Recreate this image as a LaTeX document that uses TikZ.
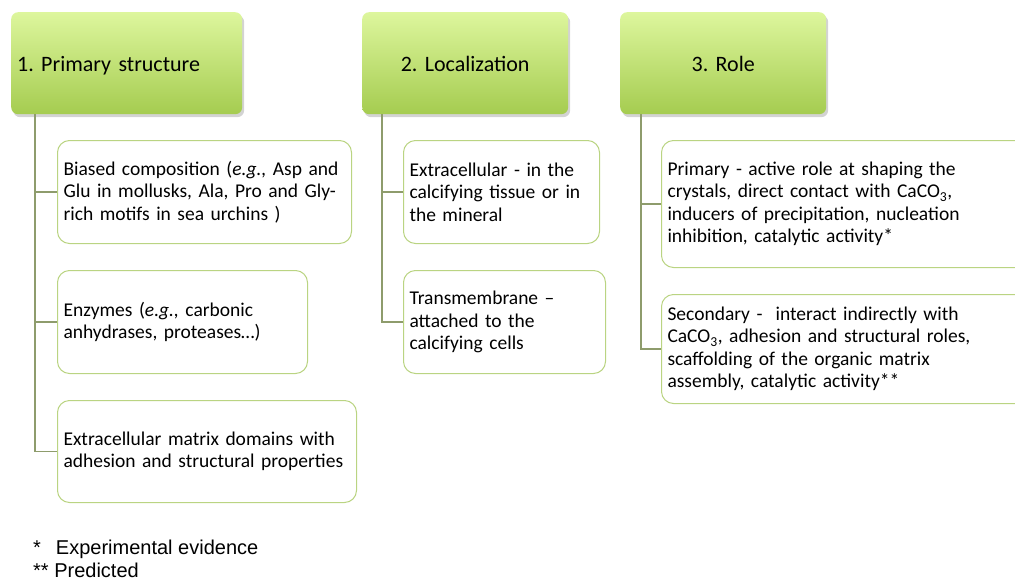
\documentclass[tikz,border=0pt]{standalone}
\usepackage{fontspec}
\setmainfont{Carlito}
\newfontfamily\notefont{Liberation Sans}
\usetikzlibrary{shadows}
\frenchspacing

\definecolor{headtop}{HTML}{DDF69D}
\definecolor{headbot}{HTML}{A5CC50}
\definecolor{boxline}{HTML}{BAD482}
\definecolor{linkline}{HTML}{8E9C6C}

\tikzset{
  headbox/.style={rectangle, rounded corners=7pt, top color=headtop, bottom color=headbot,
    minimum height=102pt, anchor=north west, inner xsep=6pt,
    drop shadow={shadow xshift=2pt, shadow yshift=-3pt, opacity=0.35},
    font=\fontsize{22}{26}\selectfont},
  itembox/.style={draw=boxline, rectangle, rounded corners=12pt, line width=1pt, fill=white,
    anchor=north west, align=left, inner xsep=6pt,
    font=\fontsize{19.5}{22.5}\selectfont},
  branch/.style={draw=linkline, line width=1.2pt}
}

\begin{document}
\begin{tikzpicture}[x=1pt, y=-1pt]
        \useasboundingbox (0,0) rectangle (1015,581);

        % headers
        \node[headbox, minimum width=231pt, text width=219pt, align=left] (head_primary) at (11,12) {\raisebox{-3pt}[\height][\depth]{1. Primary structure}};
        \node[headbox, minimum width=206pt, text width=194pt, align=center] (head_local) at (362,12) {\raisebox{-1pt}[\height][\depth]{2. Localization}};
        \node[headbox, minimum width=206pt, text width=194pt, align=center] (head_role) at (620,12) {\raisebox{-1pt}[\height][\depth]{3. Role}};

        % first column
        \node[itembox, minimum width=294pt, text width=282pt, minimum height=103pt] (item_biased) at (57,140)
          {Biased composition (\textit{e.g.,} Asp and\\Glu in mollusks, Ala, Pro and Gly-\\rich motifs in sea urchins )};
        \node[itembox, minimum width=250pt, text width=238pt, minimum height=103pt] (item_enzymes) at (57,270)
          {Enzymes (\textit{e.g.,} carbonic\\anhydrases, proteases\dots)};
        \node[itembox, minimum width=299pt, text width=287pt, minimum height=102pt] (item_matrix) at (57,400)
          {Extracellular matrix domains with\\adhesion and structural properties};

        % second column
        \node[itembox, minimum width=196pt, text width=184pt, minimum height=103pt] (item_extra) at (403,140)
          {Extracellular - in the\\calcifying tissue or in\\the mineral};
        \node[itembox, minimum width=202pt, text width=190pt, minimum height=103pt] (item_trans) at (403,270)
          {Transmembrane --\\attached to the\\calcifying cells};

        % third column
        \node[itembox, minimum width=400pt, text width=388pt, minimum height=127pt] (item_prim) at (661,140)
          {Primary - active role at shaping the\\crystals, direct contact with CaCO\textsubscript{3},\\inducers of precipitation, nucleation\\inhibition, catalytic activity*};
        \node[itembox, minimum width=400pt, text width=388pt, minimum height=109pt] (item_sec) at (661,294)
          {Secondary -\ \ interact indirectly with\\CaCO\textsubscript{3}, adhesion and structural roles,\\scaffolding of the organic matrix\\assembly, catalytic activity**};

        % connectors
        \draw[branch] ([xshift=24pt]head_primary.south west) |- (item_biased.west);
        \draw[branch] ([xshift=24pt]head_primary.south west) |- (item_enzymes.west);
        \draw[branch] ([xshift=24pt]head_primary.south west) |- (item_matrix.west);
        \draw[branch] ([xshift=20pt]head_local.south west) |- (item_extra.west);
        \draw[branch] ([xshift=20pt]head_local.south west) |- (item_trans.west);
        \draw[branch] ([xshift=21pt]head_role.south west) |- (item_prim.west);
        \draw[branch] ([xshift=21pt]head_role.south west) |- (item_sec.west);

        % notes
        \node[anchor=west, inner sep=0pt, font=\notefont\fontsize{20}{23}\selectfont] (note_exp) at (33,549) {*\hspace{15pt}Experimental evidence};
        \node[anchor=west, inner sep=0pt, font=\notefont\fontsize{20}{23}\selectfont] (note_pred) at (33,570) {** Predicted};
\end{tikzpicture}
\end{document}
